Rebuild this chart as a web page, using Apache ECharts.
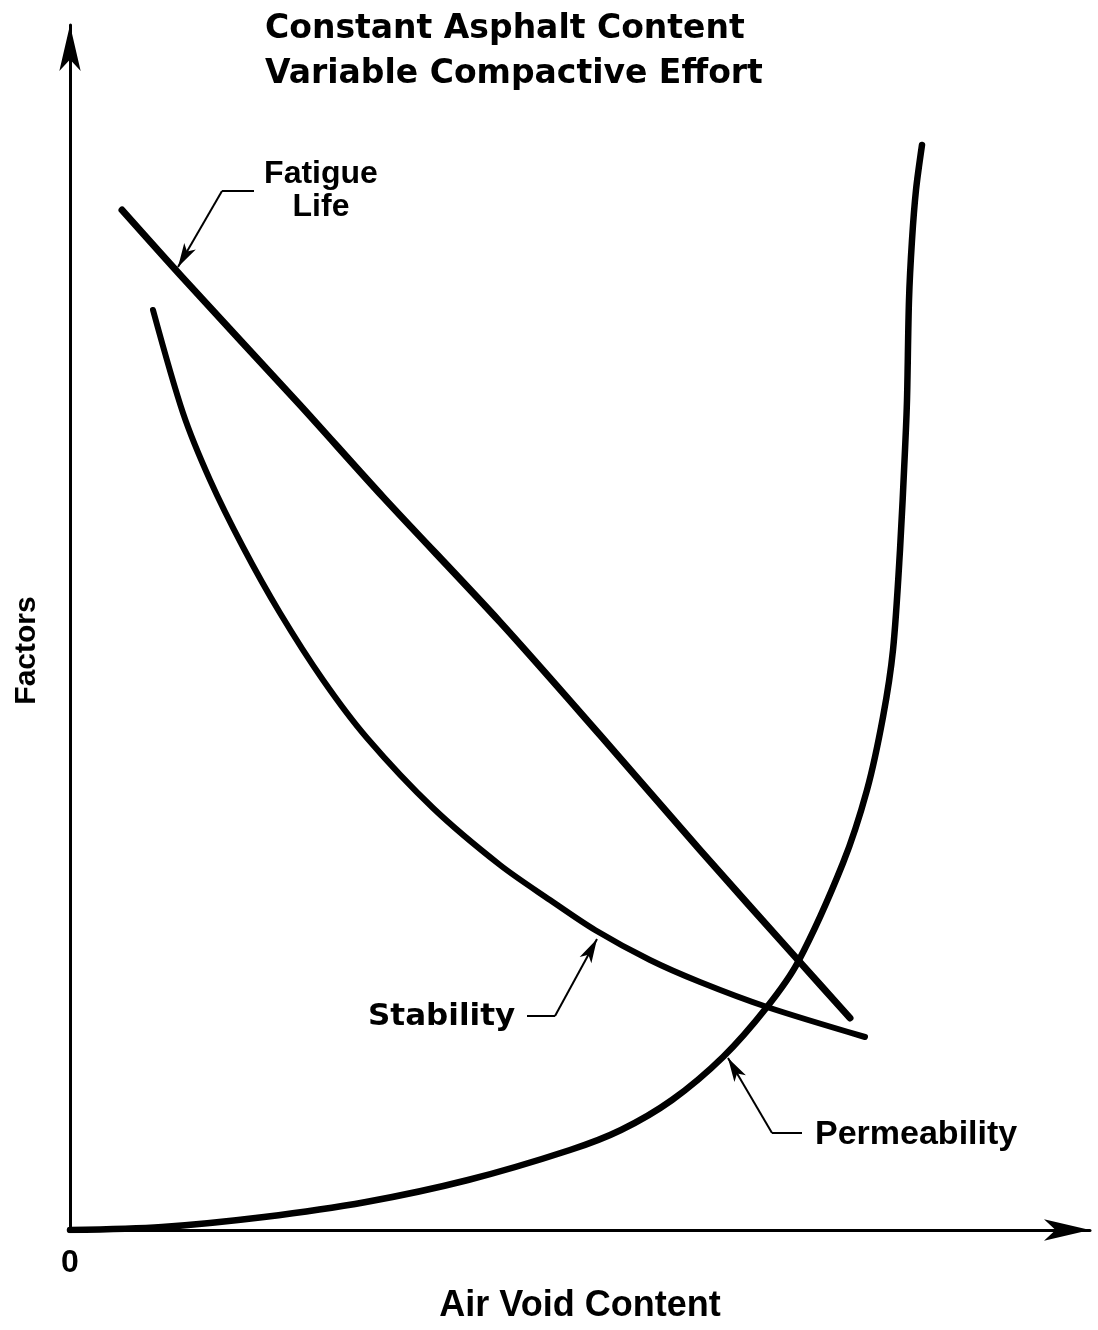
<!DOCTYPE html>
<html>
<head>
<meta charset="utf-8">
<script src="https://cdn.jsdelivr.net/npm/echarts@6/dist/echarts.min.js"></script>
<style>
html, body { margin: 0; background: #fff; }
#chart { width: 1098px; height: 1330px; }
</style>
</head>
<body>
<div id="chart"></div>
<script>
// schematic curves, arbitrary units (x = air voids, y = factor)
const fatigueX = [52, 113, 230, 313, 430, 530, 630, 728, 780];
const fatigueY = [1020, 952, 825, 733, 608, 495, 380, 270, 212];

const stabilityX = [83, 113, 140, 173, 210, 253, 297, 363, 430, 480, 525, 580, 630, 697, 795];
const stabilityY = [920, 817, 750, 683, 617, 550, 492, 422, 365, 330, 300, 270, 248, 223, 193];

const permX = [0, 92, 194, 296, 398, 500, 551, 602, 653, 697, 728, 773, 797, 813, 823, 830, 835, 837, 839, 842, 846, 852];
const permY = [0, 3, 13, 28, 50, 80, 100, 130, 173, 223, 268, 367, 440, 513, 580, 680, 780, 830, 930, 990, 1040, 1085];

// leader lines: [elbow start, elbow, arrow tip]
const fatigueLeader = [[184, 1039], [152, 1039], [108, 963]];
const stabilityLeader = [[457, 214], [485, 214], [527, 291]];
const permLeader = [[732, 97], [702, 97], [658, 172]];

const chart = echarts.init(document.getElementById('chart'));

function pairs(xs, ys) {
    let out = [];
    for (let i = 0; i < xs.length; i++) {
        out.push([xs[i], ys[i]]);
    }
    return out;
}

function leader(pts) {
    return [
        [{ coord: pts[0], symbol: 'none' }, { coord: pts[1], symbol: 'none' }],
        [{ coord: pts[1], symbol: 'none' }, { coord: pts[2], symbol: 'arrow', symbolSize: [10, 24] }]
    ];
}

function curve(name, xs, ys, width, lead) {
    return {
        name: name,
        type: 'line',
        data: pairs(xs, ys),
        smooth: 0.3,
        showSymbol: false,
        symbol: 'none',
        lineStyle: { color: '#000', width: width, cap: 'round', join: 'round' },
        markLine: {
            silent: true,
            animation: false,
            label: { show: false },
            lineStyle: { color: '#000', width: 2, type: 'solid' },
            data: leader(lead)
        }
    };
}

const option = {
    animation: false,
    backgroundColor: '#fff',
    title: {
        text: 'Constant Asphalt Content\nVariable Compactive Effort',
        left: 265,
        top: 7,
        padding: 0,
        textStyle: {
            fontFamily: 'DejaVu Sans',
            fontWeight: 'bold',
            fontSize: 33,
            lineHeight: 45,
            color: '#000'
        }
    },
    grid: { left: 70, right: 8, top: 25, bottom: 100 },
    xAxis: {
        type: 'value',
        min: 0,
        max: 1020,
        interval: 1020,
        name: 'Air Void Content',
        nameLocation: 'middle',
        nameGap: 58,
        nameTextStyle: { fontFamily: 'Liberation Sans', fontWeight: 'bold', fontSize: 36, color: '#000' },
        axisLine: {
            onZero: false,
            symbol: ['none', 'arrow'],
            symbolSize: [16, 46],
            lineStyle: { color: '#000', width: 3 }
        },
        axisTick: { show: false },
        splitLine: { show: false },
        axisLabel: {
            margin: 17,
            fontFamily: 'Liberation Sans',
            fontWeight: 'bold',
            fontSize: 32,
            color: '#000',
            showMaxLabel: false,
            formatter: function (v) { return v === 0 ? '0' : ''; }
        }
    },
    yAxis: {
        type: 'value',
        min: 0,
        max: 1205,
        name: 'Factors',
        nameLocation: 'middle',
        nameGap: 28,
        nameTextStyle: {
            fontFamily: 'Liberation Sans', fontWeight: 'bold', fontSize: 30, color: '#000',
            padding: [0, 46, 0, 0]
        },
        axisLine: {
            show: true,
            onZero: false,
            symbol: ['none', 'arrow'],
            symbolSize: [16, 46],
            lineStyle: { color: '#000', width: 3 }
        },
        axisTick: { show: false },
        splitLine: { show: false },
        axisLabel: { show: false }
    },
    graphic: [
        {
            type: 'text',
            style: {
                text: 'Fatigue\nLife', x: 321, y: 191, align: 'center', verticalAlign: 'middle',
                font: 'bold 32px "Liberation Sans"', lineHeight: 33, fill: '#000'
            }
        },
        {
            type: 'text',
            style: {
                text: 'Stability', x: 368, y: 1017, align: 'left', verticalAlign: 'middle',
                font: 'bold 31px "DejaVu Sans"', fill: '#000'
            }
        },
        {
            type: 'text',
            style: {
                text: 'Permeability', x: 815, y: 1135, align: 'left', verticalAlign: 'middle',
                font: 'bold 34px "Liberation Sans"', fill: '#000'
            }
        }
    ],
    series: [
        curve('Fatigue Life', fatigueX, fatigueY, 7, fatigueLeader),
        curve('Stability', stabilityX, stabilityY, 6, stabilityLeader),
        curve('Permeability', permX, permY, 6.5, permLeader)
    ]
};

chart.setOption(option);
</script>
</body>
</html>
